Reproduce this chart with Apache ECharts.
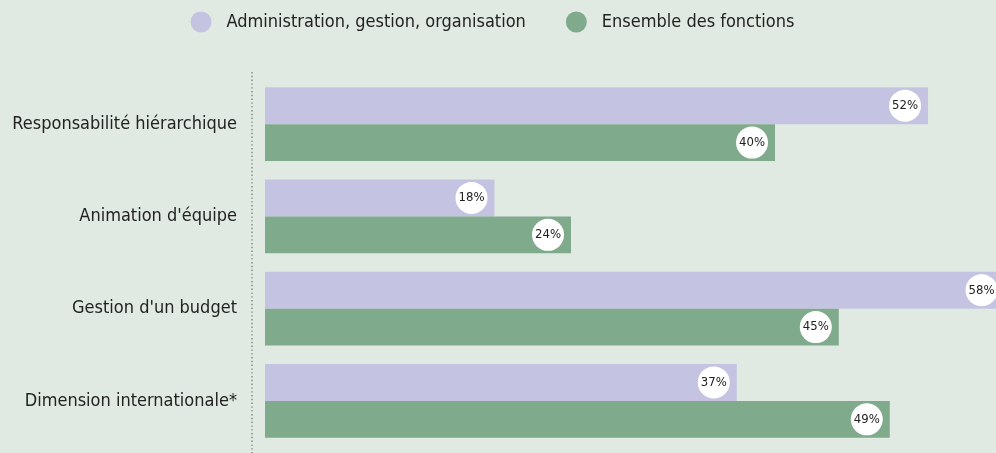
<!DOCTYPE html>
<html>
<head>
<meta charset="utf-8">
<script src="https://cdn.jsdelivr.net/npm/echarts@6/dist/echarts.min.js"></script>
<style>
  html, body { margin: 0; padding: 0; background: #e1eae2; }
  #chart { width: 996px; height: 453px; }
</style>
</head>
<body>
<div id="chart"></div>
<script>
// Categories, top to bottom
const categories = [
  "Responsabilité hiérarchique",
  "Animation d'équipe",
  "Gestion d'un budget",
  "Dimension internationale*"
];
// Share of executives (%)
const adminValues = [52, 18, 58, 37];
const allValues = [40, 24, 45, 49];
const seriesNames = ["Administration, gestion, organisation", "Ensemble des fonctions"];

const FONT = "'DejaVu Sans Condensed', 'DejaVu Sans', sans-serif";
const TEXT = "#222222";

const bubbleLabel = {
  show: true,
  position: "insideRight",
  distance: 23,
  formatter: "{c}%",
  color: TEXT,
  fontFamily: FONT,
  fontSize: 13,
  backgroundColor: "#ffffff",
  borderRadius: 16,
  width: 32,
  height: 32,
  lineHeight: 32,
  align: "center",
  verticalAlign: "middle",
  padding: 0
};

const chart = echarts.init(document.getElementById("chart"));
chart.setOption({
  backgroundColor: "#e1eae2",
  animation: false,
  legend: {
    top: 11.5,
    left: 190.5,
    padding: 0,
    itemWidth: 21,
    itemHeight: 21,
    itemGap: 40,
    icon: "circle",
    textStyle: { color: TEXT, fontFamily: FONT, fontSize: 18, padding: [0, 0, 0, 10] },
    data: [
      { name: seriesNames[0], textStyle: { width: 312 } },
      { name: seriesNames[1] }
    ]
  },
  // dotted vertical rule left of the bars
  graphic: [{
    type: "line",
    shape: { x1: 252, y1: 72, x2: 252, y2: 453 },
    style: { stroke: "#888888", lineWidth: 1.5, lineDash: [1.4, 2.4] },
    silent: true
  }],
  grid: { left: 265, top: 78, right: 0, bottom: 6 },
  xAxis: {
    type: "value",
    min: 0,
    max: 57.33,
    show: false
  },
  yAxis: {
    type: "category",
    inverse: true,
    data: categories,
    axisLine: { show: false },
    axisTick: { show: false },
    axisLabel: { color: TEXT, fontFamily: FONT, fontSize: 18, margin: 28 }
  },
  series: [
    {
      name: seriesNames[0],
      type: "bar",
      data: adminValues,
      clip: false,
      barGap: "0%",
      barCategoryGap: "20%",
      itemStyle: { color: "#c4c4e2" },
      label: bubbleLabel
    },
    {
      name: seriesNames[1],
      type: "bar",
      data: allValues,
      clip: false,
      barGap: "0%",
      barCategoryGap: "20%",
      itemStyle: { color: "#80aa8c" },
      label: bubbleLabel
    }
  ]
});
</script>
</body>
</html>
